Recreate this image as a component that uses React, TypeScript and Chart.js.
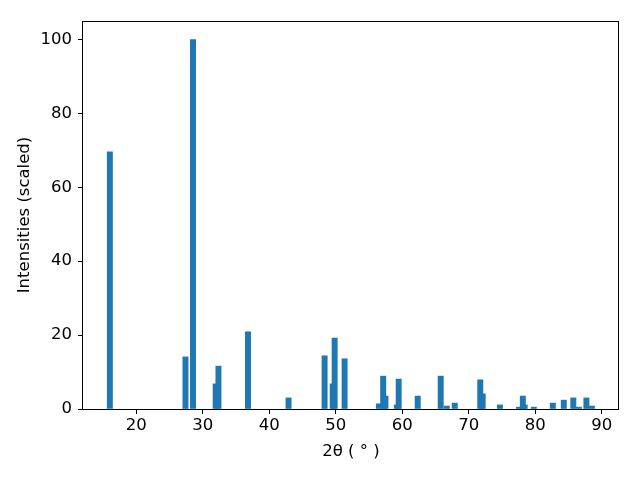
import React, { useEffect, useRef } from "react";
import { Chart, registerables } from "chart.js";

Chart.register(...registerables);

const twoTheta = [
  16.04, 27.41, 28.54, 31.95, 32.37, 36.81, 42.91, 48.33, 49.55, 49.84, 51.34,
  56.49, 57.14, 57.48, 59.2, 59.47, 62.33, 65.79, 66.7, 67.9, 71.74, 72.1,
  74.69, 77.57, 78.14, 78.41, 79.79, 82.65, 84.3, 85.73, 86.57, 87.7, 88.52,
];
const intensity = [
  69.6, 14.1, 100, 6.8, 11.6, 20.9, 3.0, 14.4, 6.8, 19.2, 13.6,
  1.4, 8.9, 3.5, 1.1, 8.1, 3.5, 8.9, 0.8, 1.6, 7.9, 4.1,
  1.1, 0.5, 3.5, 1.1, 0.5, 1.6, 2.4, 3.0, 0.5, 3.0, 0.8,
];
const xTicks = [20, 30, 40, 50, 60, 70, 80, 90];
const yTicks = [0, 20, 40, 60, 80, 100];

const FONT = { family: "'DejaVu Sans', sans-serif", size: 16.5 };

export default function App() {
  const ref = useRef<HTMLCanvasElement>(null);
  useEffect(() => {
    document.body.style.margin = "0";
    const frame = {
      id: "frame",
      afterDraw(chart: any) {
        const { ctx, chartArea } = chart;
        const { left, top, right, bottom } = chartArea;
        ctx.save();
        ctx.strokeStyle = "#000";
        ctx.lineWidth = 1;
        ctx.strokeRect(
          Math.round(left) - 0.5,
          Math.round(top) + 0.5,
          Math.round(right) - Math.round(left),
          Math.round(bottom) - Math.round(top)
        );
        ctx.restore();
      },
    };
    const chart = new Chart(ref.current as HTMLCanvasElement, {
      type: "bar",
      data: {
        datasets: [
          {
            data: twoTheta.map((x, i) => ({ x, y: intensity[i] })),
            backgroundColor: "#1f77b4",
            borderWidth: 0,
            barThickness: 5.3,
          } as any,
        ],
      },
      options: {
        animation: false,
        responsive: false,
        maintainAspectRatio: false,
        layout: { padding: { top: 21, right: 21, left: 0, bottom: 0 } },
        plugins: { legend: { display: false }, tooltip: { enabled: false } },
        scales: {
          x: {
            type: "linear",
            min: 12,
            max: 92.6,
            offset: false,
            afterBuildTicks: (a: any) => {
              a.ticks = xTicks.map((v) => ({ value: v }));
            },
            afterFit: (a: any) => {
              a.height = 71;
            },
            grid: {
              display: true,
              drawOnChartArea: false,
              drawTicks: true,
              tickLength: 5,
              color: "#000",
              tickColor: "#000",
              offset: false,
            },
            border: { display: false },
            ticks: { color: "#000", font: FONT, padding: 2, maxRotation: 0 },
            title: {
              display: true,
              text: "2θ ( ° )",
              color: "#000",
              font: FONT,
              padding: { top: 0, bottom: 18 },
            },
          },
          y: {
            type: "linear",
            min: 0,
            max: 105,
            afterBuildTicks: (a: any) => {
              a.ticks = yTicks.map((v) => ({ value: v }));
            },
            afterFit: (a: any) => {
              a.width = 83;
            },
            grid: {
              display: true,
              drawOnChartArea: false,
              drawTicks: true,
              tickLength: 5,
              color: "#000",
              tickColor: "#000",
            },
            border: { display: false },
            ticks: { color: "#000", font: FONT, padding: 6 },
            title: {
              display: true,
              text: "Intensities (scaled)",
              color: "#000",
              font: FONT,
              padding: { top: 15, bottom: 0 },
            },
          },
        },
      } as any,
      plugins: [frame],
    });
    return () => chart.destroy();
  }, []);
  return (
    <div style={{ width: 640, height: 480 }}>
      <canvas ref={ref} width={640} height={480} style={{ display: "block" }} />
    </div>
  );
}
